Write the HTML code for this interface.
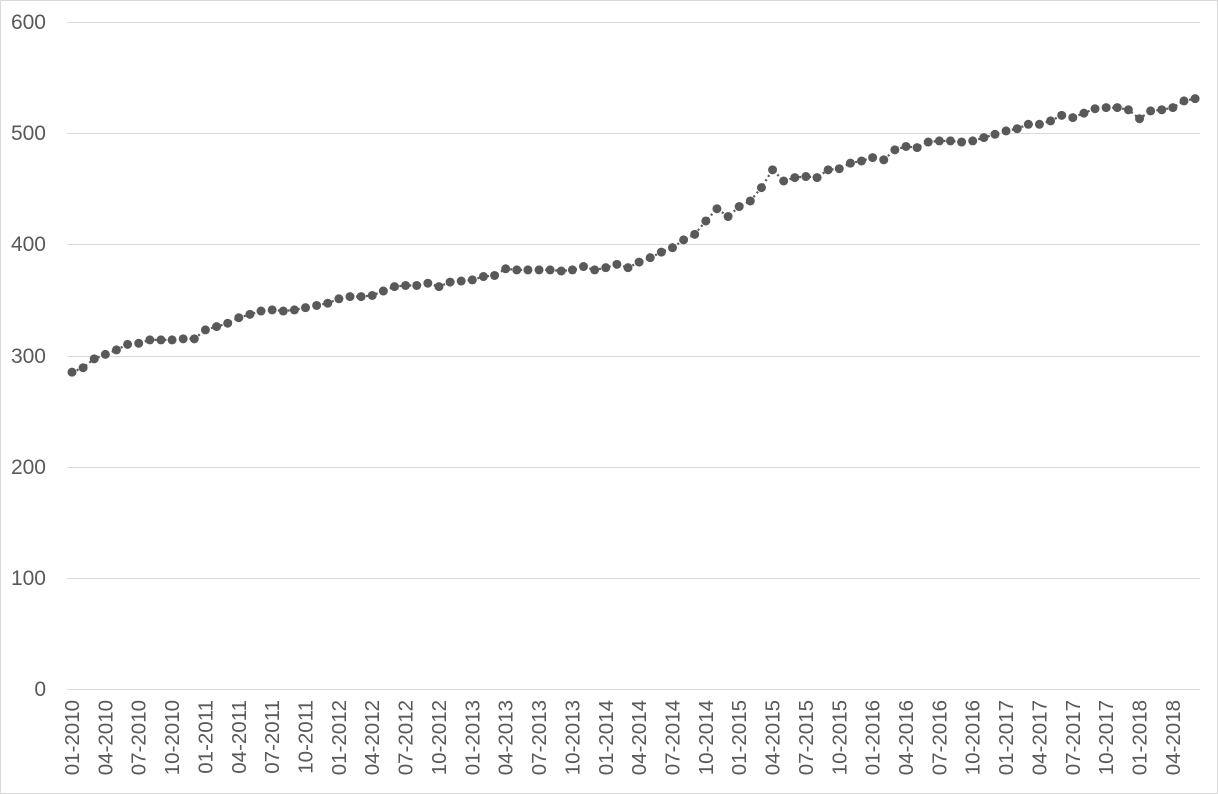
<!DOCTYPE html>
<html><head><meta charset="utf-8"><style>
html,body{margin:0;padding:0;background:#fff}
svg{display:block;font-family:"Liberation Sans",sans-serif}
</style></head><body>
<svg id="c" width="1218" height="794" viewBox="0 0 1218 794" xmlns="http://www.w3.org/2000/svg">
<rect x="0.5" y="0.5" width="1217" height="793" fill="#fff" stroke="#d9d9d9"/>
<g stroke="#d9d9d9" stroke-width="1">
<line x1="67" x2="1200" y1="22.5" y2="22.5"/>
<line x1="67" x2="1200" y1="133.5" y2="133.5"/>
<line x1="67" x2="1200" y1="244.5" y2="244.5"/>
<line x1="67" x2="1200" y1="356.5" y2="356.5"/>
<line x1="67" x2="1200" y1="467.5" y2="467.5"/>
<line x1="67" x2="1200" y1="578.5" y2="578.5"/>
<line x1="67" x2="1200" y1="689.5" y2="689.5"/>
</g>
<g fill="#595959" font-size="21" text-anchor="end">
<text x="46" y="29">600</text>
<text x="46" y="140">500</text>
<text x="46" y="251">400</text>
<text x="46" y="363">300</text>
<text x="46" y="474">200</text>
<text x="46" y="585">100</text>
<text x="46" y="696">0</text>
</g>
<g id="xl" fill="#595959" font-size="20.5" text-anchor="end">
<text transform="translate(79,700) rotate(-90)">01-2010</text>
<text transform="translate(112.4,700) rotate(-90)">04-2010</text>
<text transform="translate(145.7,700) rotate(-90)">07-2010</text>
<text transform="translate(179.1,700) rotate(-90)">10-2010</text>
<text transform="translate(212.4,700) rotate(-90)">01-2011</text>
<text transform="translate(245.8,700) rotate(-90)">04-2011</text>
<text transform="translate(279.2,700) rotate(-90)">07-2011</text>
<text transform="translate(312.5,700) rotate(-90)">10-2011</text>
<text transform="translate(345.9,700) rotate(-90)">01-2012</text>
<text transform="translate(379.2,700) rotate(-90)">04-2012</text>
<text transform="translate(412.6,700) rotate(-90)">07-2012</text>
<text transform="translate(446.0,700) rotate(-90)">10-2012</text>
<text transform="translate(479.3,700) rotate(-90)">01-2013</text>
<text transform="translate(512.7,700) rotate(-90)">04-2013</text>
<text transform="translate(546.0,700) rotate(-90)">07-2013</text>
<text transform="translate(579.4,700) rotate(-90)">10-2013</text>
<text transform="translate(612.8,700) rotate(-90)">01-2014</text>
<text transform="translate(646.1,700) rotate(-90)">04-2014</text>
<text transform="translate(679.5,700) rotate(-90)">07-2014</text>
<text transform="translate(712.8,700) rotate(-90)">10-2014</text>
<text transform="translate(746.2,700) rotate(-90)">01-2015</text>
<text transform="translate(779.6,700) rotate(-90)">04-2015</text>
<text transform="translate(812.9,700) rotate(-90)">07-2015</text>
<text transform="translate(846.3,700) rotate(-90)">10-2015</text>
<text transform="translate(879.6,700) rotate(-90)">01-2016</text>
<text transform="translate(913.0,700) rotate(-90)">04-2016</text>
<text transform="translate(946.4,700) rotate(-90)">07-2016</text>
<text transform="translate(979.7,700) rotate(-90)">10-2016</text>
<text transform="translate(1013.1,700) rotate(-90)">01-2017</text>
<text transform="translate(1046.4,700) rotate(-90)">04-2017</text>
<text transform="translate(1079.8,700) rotate(-90)">07-2017</text>
<text transform="translate(1113.2,700) rotate(-90)">10-2017</text>
<text transform="translate(1146.5,700) rotate(-90)">01-2018</text>
<text transform="translate(1179.9,700) rotate(-90)">04-2018</text>
</g>
<polyline id="ln" fill="none" stroke="#595959" stroke-width="2.2" stroke-dasharray="2 3"/>
<g id="dots" fill="#595959"></g>
</svg>
<script>
var v=[285,289,297,301,305,310,311,314,314,314,315,315,
323,326,329,334,337,340,341,340,341,343,345,347,
351,353,353,354,358,362,363,363,365,362,366,367,
368,371,372,378,377,377,377,377,376,377,380,377,
379,382,379,384,388,393,397,404,409,421,432,425,
434,439,451,467,457,460,461,460,467,468,473,475,
478,476,485,488,487,492,493,493,492,493,496,499,
502,504,508,508,511,516,514,518,522,523,523,521,
513,520,521,523,529,531];
var ns="http://www.w3.org/2000/svg",pts=[],g=document.getElementById("dots");
for(var i=0;i<v.length;i++){var x=72+i*11.12,y=689-v[i]*1.1117;pts.push(x.toFixed(1)+","+y.toFixed(1));
var c=document.createElementNS(ns,"circle");c.setAttribute("cx",x);c.setAttribute("cy",y);c.setAttribute("r",4.5);g.appendChild(c);}
document.getElementById("ln").setAttribute("points",pts.join(" "));
</script>
</body></html>
